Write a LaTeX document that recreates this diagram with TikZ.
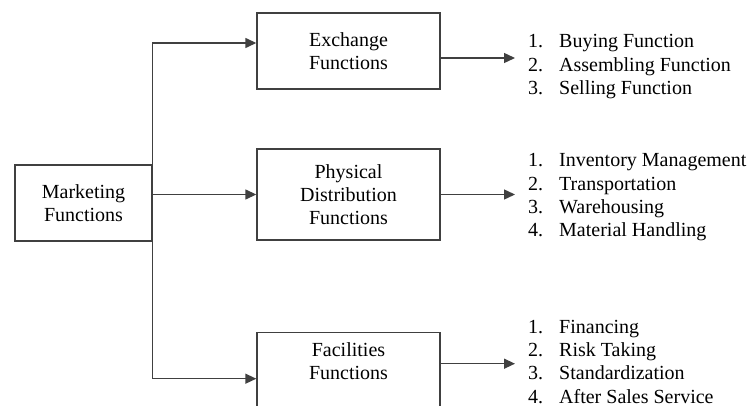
\documentclass[tikz,border=0pt]{standalone}
\usepackage{fontspec}
\setmainfont{Liberation Serif}
\usetikzlibrary{arrows.meta}
\tikzset{
  box/.style={draw=black!75, line width=1.4pt, rectangle, inner sep=0pt, align=center,
              font=\fontsize{20pt}{23pt}\selectfont},
  txt/.style={inner sep=0pt, align=center, font=\fontsize{20pt}{23pt}\selectfont},
  lst/.style={inner sep=0pt, anchor=base west, font=\fontsize{20pt}{23.2pt}\selectfont},
  conn/.style={draw=black!75, line width=1.4pt, -{Triangle[length=11pt,width=10pt]}},
  plain/.style={draw=black!75, line width=1.4pt}
}
\begin{document}
\begin{tikzpicture}[x=1pt,y=-1pt]
\path[use as bounding box, clip] (0,0) rectangle (750,406);
\fill[white] (0,0) rectangle (750,406);

% boxes
\node[box, minimum width=137pt, minimum height=76pt] (mkt) at (83.5,203) {Marketing\\Functions};
\node[box, minimum width=183pt, minimum height=76pt] (exch) at (348.5,51) {Exchange\\Functions};
\node[box, minimum width=183pt, minimum height=91pt] (phys) at (348.5,194.5) {Physical\\Distribution\\Functions};
\node[box, anchor=north, minimum width=183pt, minimum height=92pt] (fac) at (348.5,332) {};
\node[txt, anchor=north] (facT) at (348.5,342) {Facilities\\Functions};

% lists
\node[lst] (exL) at (528,48) {\begin{tabular}[t]{@{}l@{\hspace{16pt}}l@{}}
1. & Buying Function\\
2. & Assembling Function\\
3. & Selling Function
\end{tabular}};
\node[lst] (phL) at (528,167) {\begin{tabular}[t]{@{}l@{\hspace{16pt}}l@{}}
1. & Inventory Management\\
2. & Transportation\\
3. & Warehousing\\
4. & Material Handling
\end{tabular}};
\node[lst] (faL) at (528,333.5) {\begin{tabular}[t]{@{}l@{\hspace{16pt}}l@{}}
1. & Financing\\
2. & Risk Taking\\
3. & Standardization\\
4. & After Sales Service
\end{tabular}};

% trunk connectors
\draw[conn] (mkt.north east) |- ([yshift=8pt]exch.west);
\draw[conn] (mkt.east |- phys.west) -- (phys.west);
\draw[conn] (mkt.south east) |- (fac.west);

% output connectors
\draw[conn, shorten >=13pt] ([yshift=-7pt]exch.east) -- ([yshift=-7pt]exch.east -| exL.west);
\draw[conn, shorten >=13pt] (phys.east) -- (phys.east -| phL.west);
\draw[conn, shorten >=13pt] ([yshift=15pt]fac.east) -- ([yshift=15pt]fac.east -| faL.west);
\end{tikzpicture}
\end{document}
